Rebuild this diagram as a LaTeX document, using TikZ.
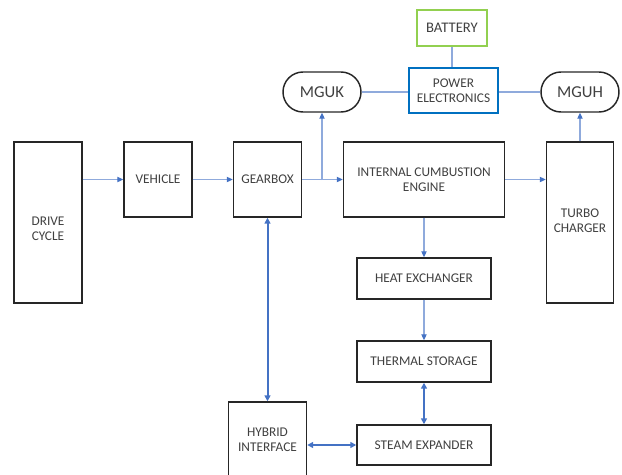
\documentclass[tikz,border=0pt]{standalone}
\usepackage{fontspec}
\setmainfont{Carlito}
\usetikzlibrary{arrows.meta}

\definecolor{lijnblauw}{HTML}{8FAADC}
\definecolor{pijlblauw}{HTML}{4472C4}
\definecolor{kaderblauw}{HTML}{0070C0}
\definecolor{kadergroen}{HTML}{92D050}
\definecolor{tekstgrijs}{HTML}{404040}

% twee regels tekst, iets verschoven binnen een hoog blok
\newcommand\verschoven[2]{\raisebox{#1}[0pt][0pt]{\begin{tabular}{@{}c@{}}#2\end{tabular}}}

\begin{document}
\begin{tikzpicture}[x=0.75pt, y=-0.75pt,
    blok/.style={draw=black!85, line width=1.1pt, align=center, inner sep=0pt,
        font=\fontsize{10}{11}\selectfont, text=tekstgrijs},
    motor/.style={blok, rounded corners=15pt, font=\fontsize{12.5}{14}\selectfont},
    stroom/.style={draw=lijnblauw, line width=0.8pt,
        -{Triangle[length=4.5pt, width=4pt, fill=pijlblauw, color=pijlblauw]}},
    lijn/.style={draw=lijnblauw, line width=0.8pt},
    wissel/.style={draw=pijlblauw, line width=1.5pt,
        {Triangle[length=4.5pt, width=4.5pt]}-{Triangle[length=4.5pt, width=4.5pt]}}]
\useasboundingbox (0,0) rectangle (622,475);

% Hoofdlijn van links naar rechts
\node[blok, minimum width=68*0.75pt, minimum height=161*0.75pt] (cycle) at (48,222.5)
    {\verschoven{-8pt}{DRIVE\\CYCLE}};
\node[blok, minimum width=68*0.75pt, minimum height=75*0.75pt] (vehicle) at (158,179.5) {VEHICLE};
\node[blok, minimum width=68*0.75pt, minimum height=75*0.75pt] (gearbox) at (267.5,179.5) {GEARBOX};
\node[blok, minimum width=161*0.75pt, minimum height=75*0.75pt] (ice) at (424,179.5)
    {INTERNAL CUMBUSTION\\ENGINE};
\node[blok, minimum width=67*0.75pt, minimum height=161*0.75pt] (turbo) at (580,222.5)
    {\verschoven{-2pt}{TURBO\\CHARGER}};

% Elektrische kant bovenaan
\node[motor, minimum width=78*0.75pt, minimum height=40*0.75pt] (mguk) at (322,92) {MGUK};
\node[motor, minimum width=78*0.75pt, minimum height=40*0.75pt] (mguh) at (580,92) {MGUH};
\node[blok, draw=kaderblauw, minimum width=89*0.75pt, minimum height=45*0.75pt] (power) at (453.5,90.5)
    {POWER\\ELECTRONICS};
\node[blok, draw=kadergroen, font=\fontsize{11}{13}\selectfont,
    minimum width=70*0.75pt, minimum height=36*0.75pt] (battery) at (452,28) {BATTERY};

% Warmteterugwinning
\node[blok, minimum width=134*0.75pt, minimum height=41*0.75pt] (heat) at (424,278.5) {HEAT EXCHANGER};
\node[blok, minimum width=134*0.75pt, minimum height=41*0.75pt] (thermal) at (424,361.5) {THERMAL STORAGE};
\node[blok, minimum width=134*0.75pt, minimum height=40*0.75pt] (steam) at (424,445) {STEAM EXPANDER};
\node[blok, minimum width=78*0.75pt, minimum height=76*0.75pt] (hybrid) at (267.5,440)
    {HYBRID\\INTERFACE};

% Verbindingen
\coordinate (split) at (322,180);
\draw[stroom] (cycle.east |- vehicle.west) -- (vehicle.west);
\draw[stroom] (vehicle.east) -- (gearbox.west);
\draw[stroom] (gearbox.east) -- (ice.west);
\draw[stroom] (split) -- (mguk.south);
\draw[stroom] (ice.east) -- (ice.east -| turbo.west);
\draw[stroom] (turbo.north) -- (mguh.south);
\draw[stroom] (ice.south) -- (heat.north);
\draw[stroom] (heat.south) -- (thermal.north);

\draw[lijn] (battery.south) -- (battery.south |- power.north);
\draw[lijn] (mguk.east) -- (mguk.east -| power.west);
\draw[lijn] (mguh.west) -- (mguh.west -| power.east);

\draw[wissel] (thermal.south) -- (steam.north);
\draw[wissel] (gearbox.south) -- (hybrid.north);
\draw[wissel] (hybrid.east |- steam.west) -- (steam.west);
\end{tikzpicture}
\end{document}
